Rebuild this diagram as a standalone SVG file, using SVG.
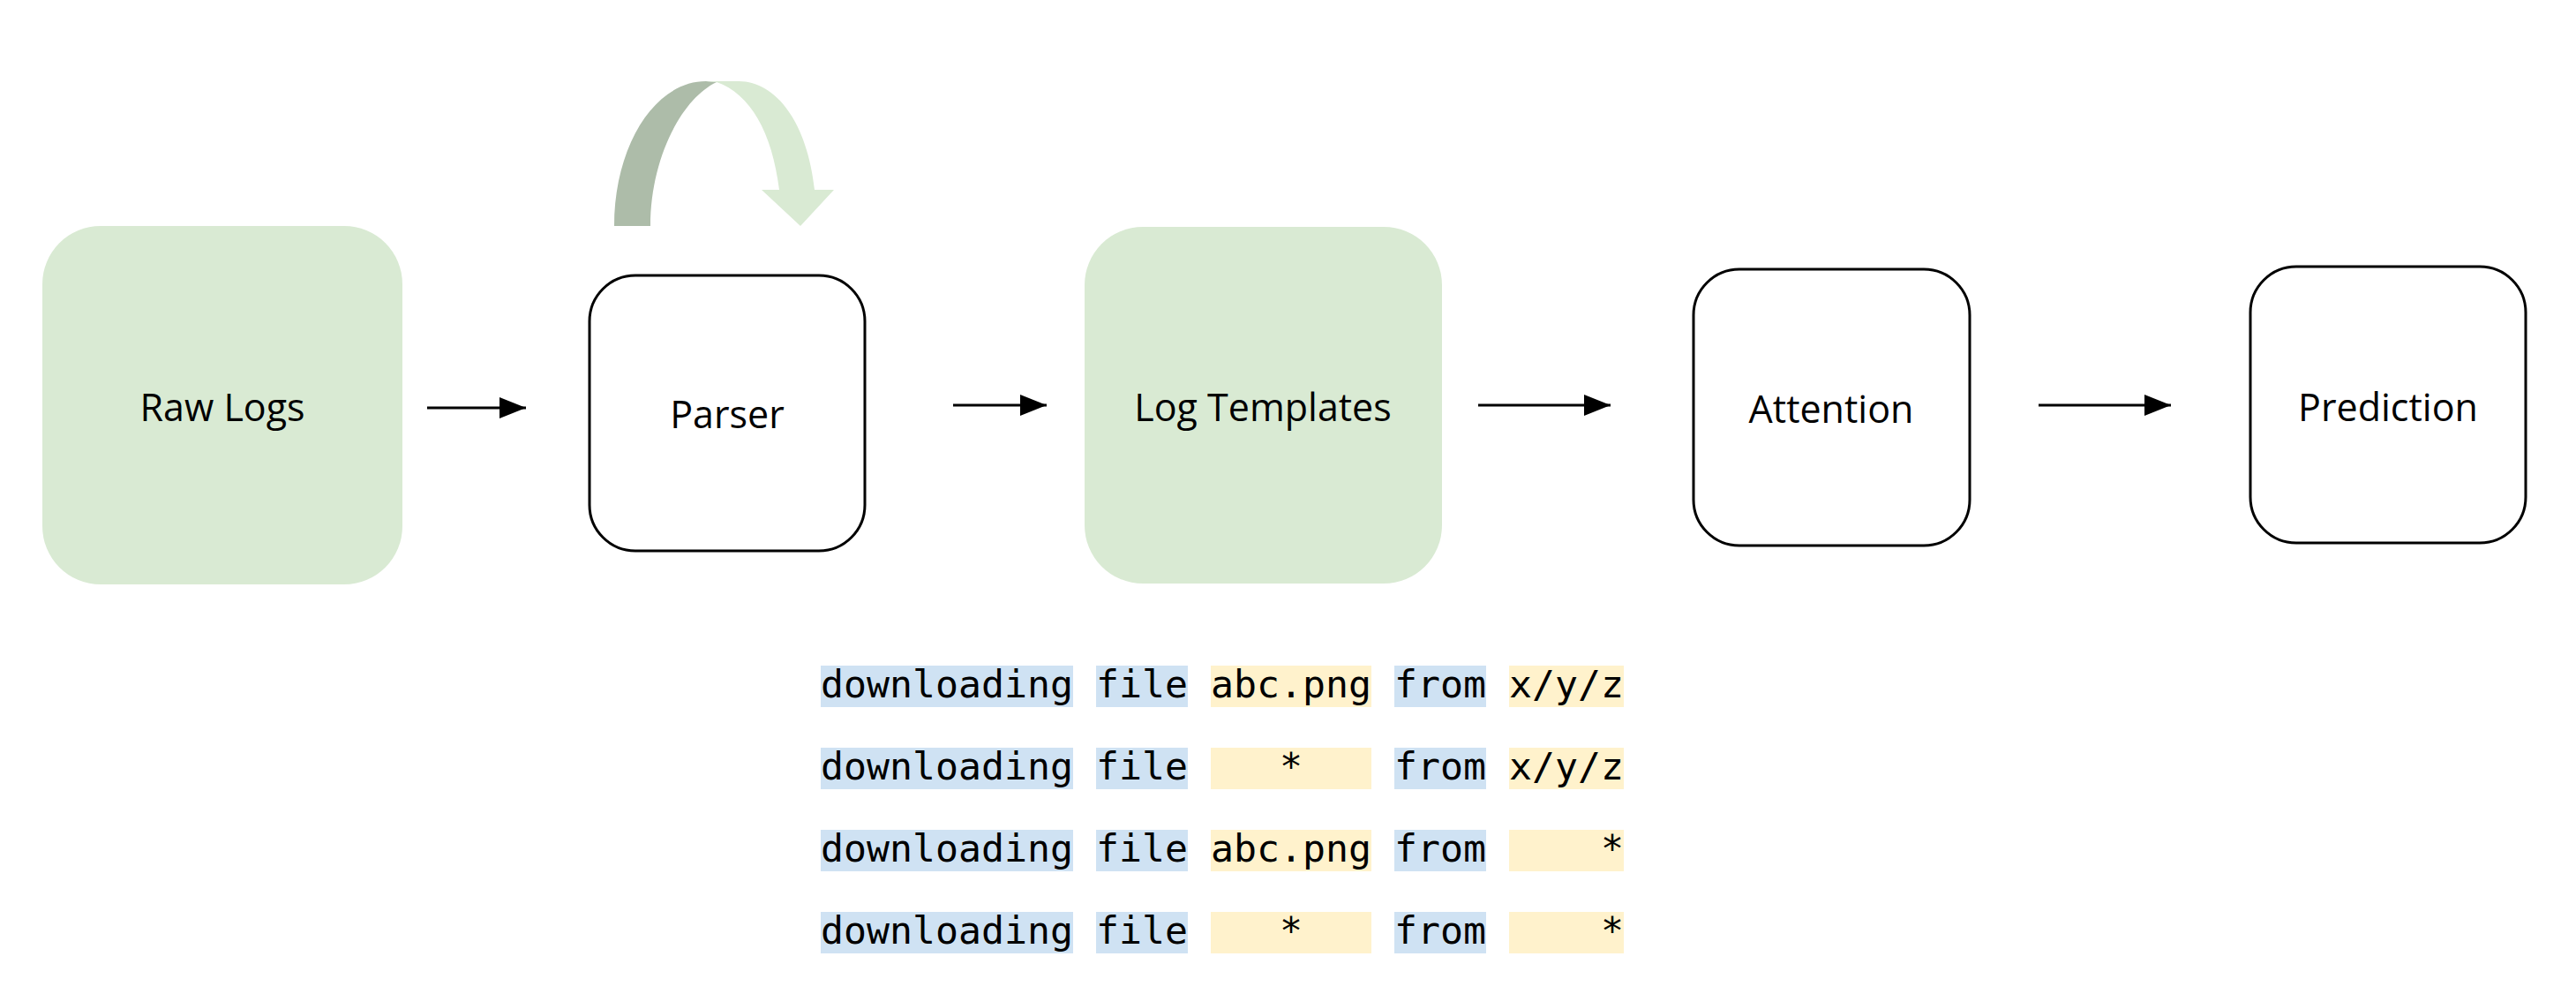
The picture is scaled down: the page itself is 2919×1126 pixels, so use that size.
<svg xmlns="http://www.w3.org/2000/svg" width="2919" height="1126" viewBox="0 0 2919 1126">
<style>
.green{fill:#d9ead3;}
.white{fill:#ffffff;stroke:#000000;stroke-width:3;}
.lbl{font-family:"Open Sans","Liberation Sans",sans-serif;font-size:43px;fill:#000000;text-anchor:middle;}
.edge{stroke:#000000;stroke-width:3;fill:none;}
.code{font-family:"DejaVu Sans Mono","Liberation Mono",monospace;font-size:43.2px;fill:#000000;}
.blue{fill:#cfe2f3;}
.yellow{fill:#fff2cc;}
</style>
<defs>
<marker id="arr" markerUnits="userSpaceOnUse" markerWidth="32" markerHeight="24" refX="30" refY="12" orient="auto">
<path d="M0,0 L30,12 L0,24 Z" fill="#000000"/>
</marker>
</defs>
<rect width="2919" height="1126" fill="#ffffff"/>
<g id="loop-arrow">
<path d="M696,256 C696,165 742,92 800,92 L812,93 C772,112 737,180 737,256 Z" fill="#adbca9"/>
<path d="M812,93 L800,92 L837,92 C880,92 915,140 923,215 L945,215 L907,256 L863,215 L883,215 C875,150 850,106 812,93 Z" fill="#d9ead3"/>
</g>
<g id="node-raw-logs">
<rect class="green" x="48" y="256" width="408" height="406" rx="66" ry="66"/>
<text class="lbl" x="252" y="477">Raw Logs</text>
</g>
<g id="node-parser">
<rect class="white" x="668" y="312" width="312" height="312" rx="52" ry="52"/>
<text class="lbl" x="824" y="485">Parser</text>
</g>
<g id="node-log-templates">
<rect class="green" x="1229" y="257" width="405" height="404" rx="66" ry="66"/>
<text class="lbl" x="1431" y="477">Log Templates</text>
</g>
<g id="node-attention">
<rect class="white" x="1919" y="305" width="313" height="313" rx="52" ry="52"/>
<text class="lbl" x="2075" y="479">Attention</text>
</g>
<g id="node-prediction">
<rect class="white" x="2550" y="302" width="312" height="313" rx="52" ry="52"/>
<text class="lbl" x="2706" y="477">Prediction</text>
</g>
<g id="connectors">
<line class="edge" x1="484" y1="462" x2="596" y2="462" marker-end="url(#arr)"/>
<line class="edge" x1="1080" y1="459" x2="1186" y2="459" marker-end="url(#arr)"/>
<line class="edge" x1="1675" y1="459" x2="1825" y2="459" marker-end="url(#arr)"/>
<line class="edge" x1="2310" y1="459" x2="2460" y2="459" marker-end="url(#arr)"/>
</g>
<g id="templates">
<g id="row1">
<rect class="blue" x="930" y="754" width="286" height="47"/>
<rect class="blue" x="1242" y="754" width="104" height="47"/>
<rect class="yellow" x="1372" y="754" width="182" height="47"/>
<rect class="blue" x="1580" y="754" width="104" height="47"/>
<rect class="yellow" x="1710" y="754" width="130" height="47"/>
<text class="code" x="930" y="790" xml:space="preserve">downloading file abc.png from x/y/z</text>
</g>
<g id="row2">
<rect class="blue" x="930" y="847" width="286" height="47"/>
<rect class="blue" x="1242" y="847" width="104" height="47"/>
<rect class="yellow" x="1372" y="847" width="182" height="47"/>
<rect class="blue" x="1580" y="847" width="104" height="47"/>
<rect class="yellow" x="1710" y="847" width="130" height="47"/>
<text class="code" x="930" y="883" xml:space="preserve">downloading file    *    from x/y/z</text>
</g>
<g id="row3">
<rect class="blue" x="930" y="940" width="286" height="47"/>
<rect class="blue" x="1242" y="940" width="104" height="47"/>
<rect class="yellow" x="1372" y="940" width="182" height="47"/>
<rect class="blue" x="1580" y="940" width="104" height="47"/>
<rect class="yellow" x="1710" y="940" width="130" height="47"/>
<text class="code" x="930" y="976" xml:space="preserve">downloading file abc.png from     *</text>
</g>
<g id="row4">
<rect class="blue" x="930" y="1033" width="286" height="47"/>
<rect class="blue" x="1242" y="1033" width="104" height="47"/>
<rect class="yellow" x="1372" y="1033" width="182" height="47"/>
<rect class="blue" x="1580" y="1033" width="104" height="47"/>
<rect class="yellow" x="1710" y="1033" width="130" height="47"/>
<text class="code" x="930" y="1069" xml:space="preserve">downloading file    *    from     *</text>
</g>
</g>
</svg>
